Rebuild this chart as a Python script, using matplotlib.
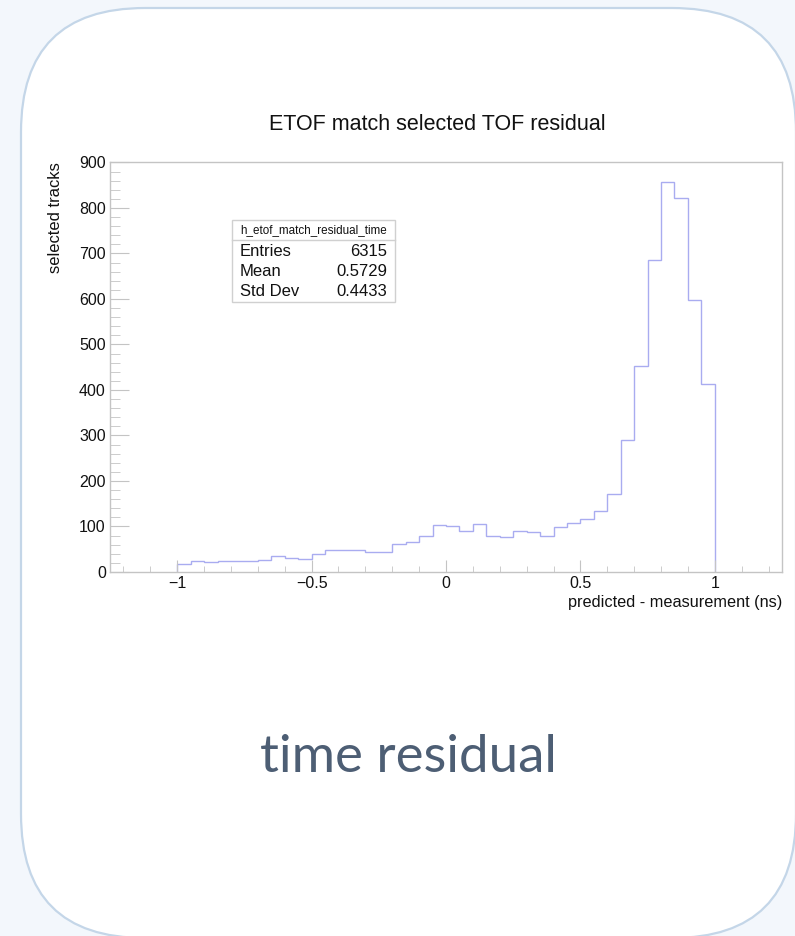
import numpy as np
import matplotlib
matplotlib.use("Agg")
import matplotlib.pyplot as plt
from matplotlib.patches import FancyBboxPatch, Rectangle
from matplotlib.ticker import MultipleLocator

# histogram h_etof_match_residual_time: 40 bins from -1 to 1 ns
bin_lo, bin_hi, n_bins = -1.0, 1.0, 40
counts = [18, 24, 22, 24, 24, 24, 26, 36, 31, 28,
          39, 48, 48, 48, 43, 45, 61, 67, 80, 104,
          100, 91, 105, 79, 77, 90, 87, 80, 98, 107,
          117, 135, 172, 289, 452, 686, 858, 822, 597, 413]

stat_names = ["Entries", "Mean", "Std Dev"]
stat_values = ["6315", "0.5729", "0.4433"]

title = "ETOF match selected TOF residual"
hist_name = "h_etof_match_residual_time"
x_title = "predicted - measurement (ns)"
y_title = "selected tracks"
caption = "time residual"

W, H = 795, 936
fig = plt.figure(figsize=(W / 100, H / 100), dpi=100, facecolor="#f3f7fc")

# card in pixel coordinates
bg = fig.add_axes([0, 0, 1, 1], zorder=0)
bg.set_xlim(0, W)
bg.set_ylim(H, 0)
bg.axis("off")
card = FancyBboxPatch((21, 8), 775, 930, boxstyle="round,pad=0,rounding_size=124",
                      facecolor="white", edgecolor="#c4d6e8", linewidth=1.6)
bg.add_patch(card)

fig.text(408 / W, 1 - 758 / H, caption, ha="center", va="center",
         fontsize=38, family="Lato", color="#4d5e74")

# ROOT style histogram pad
grey = "#c4c4c4"
ax = fig.add_axes([110 / W, 1 - 572 / H, 672 / W, 410 / H], zorder=1)
ax.patch.set_alpha(0)
edges = np.linspace(bin_lo, bin_hi, n_bins + 1)
ax.stairs(counts, edges, baseline=0, color="#a9acf0", linewidth=1.0)

ax.set_xlim(-1.25, 1.25)
ax.set_ylim(0, max(counts) * 1.05)
for sp in ax.spines.values():
    sp.set_color(grey)
    sp.set_linewidth(1.0)

ax.xaxis.set_major_locator(MultipleLocator(0.5))
ax.xaxis.set_minor_locator(MultipleLocator(0.1))
ax.yaxis.set_major_locator(MultipleLocator(100))
ax.yaxis.set_minor_locator(MultipleLocator(20))
ax.tick_params(axis="x", which="major", direction="in", length=8.8, color=grey,
               labelsize=11.5, pad=3, labelcolor="#111111")
ax.tick_params(axis="x", which="minor", direction="in", length=4.4, color=grey)
ax.tick_params(axis="y", which="major", direction="in", length=13.7, color=grey,
               labelsize=11.5, pad=3, labelcolor="#111111")
ax.tick_params(axis="y", which="minor", direction="in", length=6.9, color=grey)
ax.xaxis.set_major_formatter(plt.FuncFormatter(lambda v, p: f"{v:g}".replace("-", "\u2212")))

for lab in ax.get_xticklabels() + ax.get_yticklabels():
    lab.set_family("Liberation Sans")

ax.text(1.0, -0.075, x_title, transform=ax.transAxes, ha="right", va="center",
        fontsize=11.7, family="Liberation Sans", color="#111111")
fig.text(56 / W, 1 - 162 / H, y_title, rotation=90, ha="center", va="top",
         fontsize=11.9, family="Liberation Sans", color="#111111")
fig.text(437 / W, 1 - 125 / H, title, ha="center", va="center",
         fontsize=15.5, family="Liberation Sans", color="#111111")

# stats box
bx0, bx1 = (232 - 110) / 672, (395 - 110) / 672
by0, by1 = (572 - 302) / 410, (572 - 220) / 410
ysep = (572 - 240) / 410
ax.add_patch(Rectangle((bx0, by0), bx1 - bx0, by1 - by0, transform=ax.transAxes,
                       facecolor="white", edgecolor="#d0d0d0", linewidth=1.0, zorder=3))
ax.plot([bx0, bx1], [ysep, ysep], transform=ax.transAxes, color="#d0d0d0",
        linewidth=1.0, zorder=4)
ax.text((bx0 + bx1) / 2, (572 - 230) / 410, hist_name, transform=ax.transAxes,
        ha="center", va="center", fontsize=8.4, family="Liberation Sans",
        color="#111111", zorder=5)
for i, (nm, val) in enumerate(zip(stat_names, stat_values)):
    yy = (572 - (252 + 20 * i)) / 410
    ax.text((240 - 110) / 672, yy, nm, transform=ax.transAxes, ha="left",
            va="center", fontsize=12, family="Liberation Sans", color="#111111", zorder=5)
    ax.text((387 - 110) / 672, yy, val, transform=ax.transAxes, ha="right",
            va="center", fontsize=12, family="Liberation Sans", color="#111111", zorder=5)

fig.savefig("out.png", dpi=100, facecolor=fig.get_facecolor())
